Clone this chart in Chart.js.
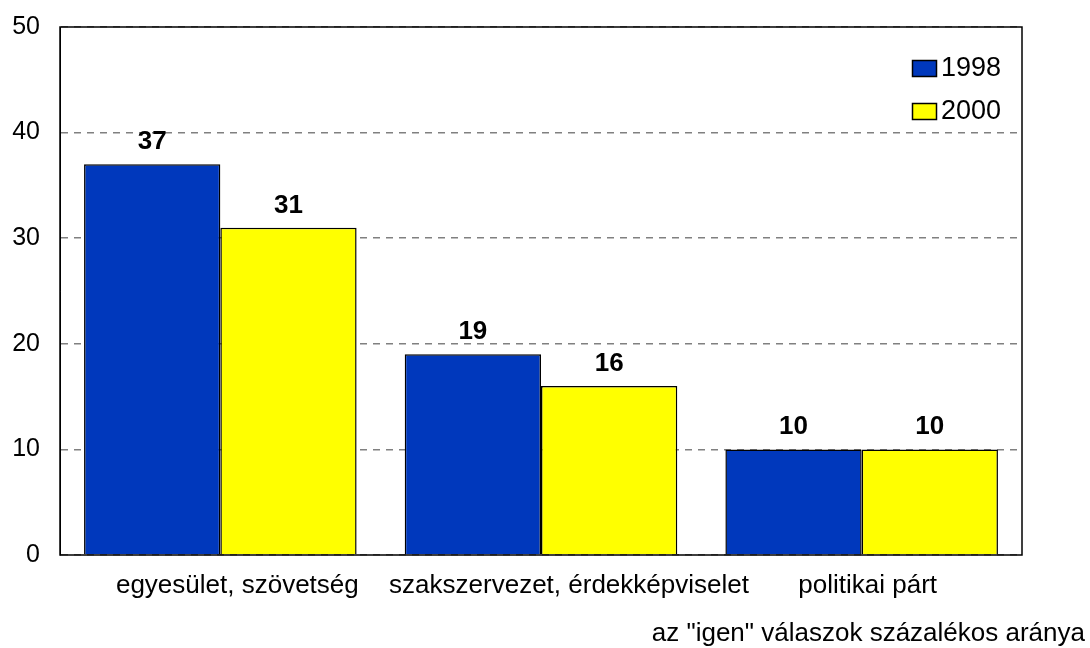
<!DOCTYPE html>
<html>
<head>
<meta charset="utf-8">
<script src="https://cdn.jsdelivr.net/npm/chart.js@4"></script>
<style>
	html, body { margin: 0; padding: 0; background: #fff; }
	#wrap { width: 1090px; height: 648px; }
</style>
</head>
<body>
<div id="wrap"><canvas id="chart" width="1090" height="648"></canvas></div>
<script>
const categories = ['egyesület, szövetség', 'szakszervezet, érdekképviselet', 'politikai párt'];
const values1998 = [37, 19, 10];
const values2000 = [31, 16, 10];
const yTicks = [0, 10, 20, 30, 40, 50];
const caption = 'az "igen" válaszok százalékos aránya';

const FONT = '"Liberation Sans", Arial, sans-serif';
// the original category labels sit a bit right of the group centres
const labelShift = [17, 28, 6];

let framePlugin = {
	id: 'frame',
	afterDatasetsDraw(chart) {
		let {ctx} = chart;
		// value labels above bars
		ctx.save();
		ctx.font = 'bold 26px ' + FONT;
		ctx.fillStyle = '#000';
		ctx.textAlign = 'center';
		ctx.textBaseline = 'alphabetic';
		chart.data.datasets.forEach((ds, i) => {
			chart.getDatasetMeta(i).data.forEach((bar, j) => {
				ctx.fillText(String(ds.data[j]), bar.x, bar.y - 15);
			});
		});
		ctx.restore();
	},
	afterDraw(chart) {
		let {ctx, chartArea} = chart;
		let xScale = chart.scales.x;
		ctx.save();
		ctx.strokeStyle = '#000';
		ctx.lineWidth = 1.5;
		ctx.setLineDash([]);
		ctx.strokeRect(chartArea.left, chartArea.top, chartArea.right - chartArea.left, chartArea.bottom - chartArea.top);

		// category labels
		ctx.font = '26px ' + FONT;
		ctx.fillStyle = '#000';
		ctx.textAlign = 'center';
		ctx.textBaseline = 'alphabetic';
		chart.data.labels.forEach((label, i) => {
			ctx.fillText(label, xScale.getPixelForTick(i) + labelShift[i], chartArea.bottom + 38);
		});

		// legend
		ctx.font = '27px ' + FONT;
		ctx.textBaseline = 'middle';
		ctx.textAlign = 'left';
		chart.data.datasets.forEach((ds, i) => {
			let y = 60 + i * 43;
			ctx.fillStyle = ds.backgroundColor;
			ctx.fillRect(912, y, 25, 17);
			ctx.lineWidth = 1.5;
			ctx.strokeStyle = '#000';
			ctx.strokeRect(912.5, y + 0.5, 24, 16);
			ctx.fillStyle = '#000';
			ctx.fillText(ds.label, 941, y + 9);
		});

		// caption
		ctx.font = '26px ' + FONT;
		ctx.textAlign = 'right';
		ctx.textBaseline = 'alphabetic';
		ctx.fillText(caption, 1085, 641);
		ctx.restore();
	},
};

new Chart(document.getElementById('chart'), {
	type: 'bar',
	data: {
		labels: categories,
		datasets: [
			{
				label: '1998',
				data: values1998,
				backgroundColor: '#0038BC',
				borderColor: '#000',
				borderWidth: 1.5,
			},
			{
				label: '2000',
				data: values2000,
				backgroundColor: '#FFFF00',
				borderColor: '#000',
				borderWidth: 1.5,
			},
		],
	},
	options: {
		responsive: false,
		animation: false,
		layout: {
			padding: {top: 27, right: 68, bottom: 43, left: 0},
		},
		categoryPercentage: 0.85,
		barPercentage: 1,
		plugins: {
			legend: {display: false},
			tooltip: {enabled: false},
		},
		scales: {
			x: {
				grid: {display: false, drawTicks: false},
				border: {display: false},
				ticks: {display: false},
				afterFit(scale) {
					scale.height = 50;
					scale.paddingLeft = 0;
					scale.paddingRight = 0;
				},
			},
			y: {
				min: yTicks[0],
				max: yTicks[yTicks.length - 1],
				afterBuildTicks(scale) {
					scale.ticks = yTicks.map(v => ({value: v}));
				},
				grid: {
					color: '#808080',
					lineWidth: 1.5,
					drawTicks: false,
				},
				border: {display: true, color: '#000', dash: [7, 6]},
				ticks: {
					color: '#000',
					font: {family: FONT, size: 25},
					padding: 20,
				},
				afterFit(scale) {
					scale.width = 60;
					scale.paddingTop = 0;
					scale.paddingBottom = 0;
				},
			},
		},
	},
	plugins: [framePlugin],
});
</script>
</body>
</html>
